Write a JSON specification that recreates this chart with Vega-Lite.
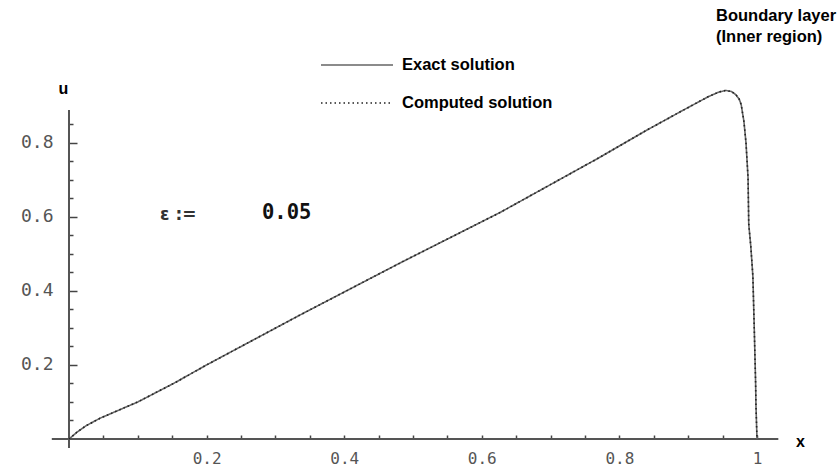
{
  "$schema": "https://vega.github.io/schema/vega-lite/v6.json",
  "width": 839,
  "height": 468,
  "autosize": {"type": "none"},
  "padding": 0,
  "background": "white",
  "config": {
    "view": {"stroke": null},
    "axis": {"labelOverlap": false, "labelFlush": false, "labelBound": false}
  },
  "datasets": {
    "axes": [
      {"x": -0.025, "x2": 1.031, "y": 0, "y2": 0},
      {"x": 0, "x2": 0, "y": -0.024, "y2": 0.888}
    ],
    "solution": [
      {"x": 0, "u": 0, "series": "Exact solution"},
      {"x": 0.012, "u": 0.019, "series": "Exact solution"},
      {"x": 0.025, "u": 0.036, "series": "Exact solution"},
      {"x": 0.045, "u": 0.056, "series": "Exact solution"},
      {"x": 0.1, "u": 0.1, "series": "Exact solution"},
      {"x": 0.153, "u": 0.151, "series": "Exact solution"},
      {"x": 0.2, "u": 0.2, "series": "Exact solution"},
      {"x": 0.336, "u": 0.335, "series": "Exact solution"},
      {"x": 0.482, "u": 0.476, "series": "Exact solution"},
      {"x": 0.627, "u": 0.612, "series": "Exact solution"},
      {"x": 0.773, "u": 0.762, "series": "Exact solution"},
      {"x": 0.838, "u": 0.832, "series": "Exact solution"},
      {"x": 0.889, "u": 0.884, "series": "Exact solution"},
      {"x": 0.929, "u": 0.924, "series": "Exact solution"},
      {"x": 0.945, "u": 0.937, "series": "Exact solution"},
      {"x": 0.955, "u": 0.941, "series": "Exact solution"},
      {"x": 0.963, "u": 0.938, "series": "Exact solution"},
      {"x": 0.969, "u": 0.93, "series": "Exact solution"},
      {"x": 0.974, "u": 0.918, "series": "Exact solution"},
      {"x": 0.977, "u": 0.903, "series": "Exact solution"},
      {"x": 0.981, "u": 0.857, "series": "Exact solution"},
      {"x": 0.984, "u": 0.8, "series": "Exact solution"},
      {"x": 0.987, "u": 0.705, "series": "Exact solution"},
      {"x": 0.988, "u": 0.58, "series": "Exact solution"},
      {"x": 0.991, "u": 0.52, "series": "Exact solution"},
      {"x": 0.994, "u": 0.44, "series": "Exact solution"},
      {"x": 0.996, "u": 0.3, "series": "Exact solution"},
      {"x": 0.998, "u": 0.15, "series": "Exact solution"},
      {"x": 0.9985, "u": 0.09, "series": "Exact solution"},
      {"x": 1.0, "u": 0, "series": "Exact solution"},
      {"x": 0, "u": 0, "series": "Computed solution"},
      {"x": 0.012, "u": 0.019, "series": "Computed solution"},
      {"x": 0.025, "u": 0.036, "series": "Computed solution"},
      {"x": 0.045, "u": 0.056, "series": "Computed solution"},
      {"x": 0.1, "u": 0.1, "series": "Computed solution"},
      {"x": 0.153, "u": 0.151, "series": "Computed solution"},
      {"x": 0.2, "u": 0.2, "series": "Computed solution"},
      {"x": 0.336, "u": 0.335, "series": "Computed solution"},
      {"x": 0.482, "u": 0.476, "series": "Computed solution"},
      {"x": 0.627, "u": 0.612, "series": "Computed solution"},
      {"x": 0.773, "u": 0.762, "series": "Computed solution"},
      {"x": 0.838, "u": 0.832, "series": "Computed solution"},
      {"x": 0.889, "u": 0.884, "series": "Computed solution"},
      {"x": 0.929, "u": 0.924, "series": "Computed solution"},
      {"x": 0.945, "u": 0.937, "series": "Computed solution"},
      {"x": 0.955, "u": 0.941, "series": "Computed solution"},
      {"x": 0.963, "u": 0.938, "series": "Computed solution"},
      {"x": 0.969, "u": 0.93, "series": "Computed solution"},
      {"x": 0.974, "u": 0.918, "series": "Computed solution"},
      {"x": 0.977, "u": 0.903, "series": "Computed solution"},
      {"x": 0.981, "u": 0.857, "series": "Computed solution"},
      {"x": 0.984, "u": 0.8, "series": "Computed solution"},
      {"x": 0.987, "u": 0.705, "series": "Computed solution"},
      {"x": 0.988, "u": 0.58, "series": "Computed solution"},
      {"x": 0.991, "u": 0.52, "series": "Computed solution"},
      {"x": 0.994, "u": 0.44, "series": "Computed solution"},
      {"x": 0.996, "u": 0.3, "series": "Computed solution"},
      {"x": 0.998, "u": 0.15, "series": "Computed solution"},
      {"x": 0.9985, "u": 0.09, "series": "Computed solution"},
      {"x": 1.0, "u": 0, "series": "Computed solution"}
    ],
    "eps": [{"x": 0.1323, "y": 0.6048, "text": "ε :="}],
    "epsval": [{"x": 0.2805, "y": 0.61, "text": "0.05"}],
    "boundary": [
      {"x": 0.9404, "y": 1.142, "text": "Boundary layer"},
      {"x": 0.9404, "y": 1.0853, "text": "(Inner region)"}
    ]
  },
  "resolve": {"axis": {"y": "independent"}},
  "layer": [
    {
      "data": {"name": "axes"},
      "mark": {"type": "rule", "color": "#555", "strokeWidth": 2},
      "encoding": {
        "x": {
          "field": "x", "type": "quantitative",
          "scale": {"domain": [-0.10029, 1.11919], "nice": false, "zero": false},
          "axis": {
            "orient": "bottom", "offset": -29, "domain": false, "grid": false,
            "values": [0.05, 0.1, 0.15, 0.2, 0.25, 0.3, 0.35, 0.4, 0.45, 0.5, 0.55, 0.6, 0.65, 0.7, 0.75, 0.8, 0.85, 0.9, 0.95, 1.0],
            "tickSize": -4, "tickColor": "#444", "tickWidth": 1.5,
            "labelExpr": "abs(datum.value*5-round(datum.value*5))<0.001 ? (datum.value==1 ? '1' : format(datum.value, '.1f')) : ''",
            "labelFont": "DejaVu Sans Mono", "labelFontSize": 16, "labelColor": "#555",
            "labelPadding": 23, "labelBaseline": "middle",
            "title": "x", "titleX": 800, "titleY": 2, "titleAlign": "center", "titleBaseline": "middle",
            "titleFont": "Liberation Sans", "titleFontSize": 16, "titleFontWeight": "bold", "titleColor": "#000"
          }
        },
        "x2": {"field": "x2"},
        "y": {
          "field": "y", "type": "quantitative",
          "scale": {"domain": [-0.07829, 1.18521], "nice": false, "zero": false},
          "axis": {
            "orient": "left", "offset": -69, "domain": false, "grid": false,
            "values": [0.05, 0.1, 0.15, 0.25, 0.3, 0.35, 0.45, 0.5, 0.55, 0.65, 0.7, 0.75, 0.85],
            "tickSize": -4, "tickColor": "#444", "tickWidth": 1.5, "labels": false,
            "title": "u", "titleAngle": 0, "titleX": -6, "titleY": 88, "titleAlign": "center", "titleBaseline": "middle",
            "titleFont": "Liberation Sans", "titleFontSize": 16, "titleFontWeight": "bold", "titleColor": "#000"
          }
        },
        "y2": {"field": "y2"}
      }
    },
    {
      "data": {"name": "solution"},
      "mark": {"type": "line", "strokeWidth": 1.6},
      "encoding": {
        "x": {"field": "x", "type": "quantitative"},
        "y": {
          "field": "u", "type": "quantitative",
          "axis": {
            "orient": "left", "offset": -69, "domain": false, "grid": false,
            "values": [0.2, 0.4, 0.6, 0.8],
            "tickSize": -8, "tickColor": "#444", "tickWidth": 1.5,
            "labelFont": "DejaVu Sans Mono", "labelFontSize": 18, "labelColor": "#555",
            "labelPadding": 24, "format": ".1f", "title": null
          }
        },
        "color": {
          "field": "series", "type": "nominal",
          "scale": {"domain": ["Exact solution", "Computed solution"], "range": ["#666", "#222"]},
          "legend": {
            "orient": "none", "legendX": 320, "legendY": 55, "title": null, "padding": 0,
            "symbolType": "stroke", "symbolSize": 5184, "symbolStrokeWidth": 1.3, "clipHeight": 20,
            "labelFont": "Liberation Sans", "labelFontSize": 16.5, "labelFontWeight": "bold", "labelColor": "#000",
            "labelOffset": 8, "rowPadding": 18
          }
        },
        "strokeDash": {
          "field": "series", "type": "nominal",
          "scale": {"domain": ["Exact solution", "Computed solution"], "range": [[1, 0], [1.5, 3]]},
          "legend": {
            "orient": "none", "legendX": 320, "legendY": 55, "title": null, "padding": 0,
            "symbolType": "stroke", "symbolSize": 5184, "symbolStrokeWidth": 1.3, "clipHeight": 20,
            "labelFont": "Liberation Sans", "labelFontSize": 16.5, "labelFontWeight": "bold", "labelColor": "#000",
            "labelOffset": 8, "rowPadding": 18
          }
        }
      }
    },
    {
      "data": {"name": "eps"},
      "mark": {"type": "text", "align": "left", "baseline": "middle", "font": "DejaVu Sans", "fontSize": 17, "fontWeight": "bold", "color": "#333"},
      "encoding": {
        "x": {"field": "x", "type": "quantitative"},
        "y": {"field": "y", "type": "quantitative", "axis": null},
        "text": {"field": "text"}
      }
    },
    {
      "data": {"name": "epsval"},
      "mark": {"type": "text", "align": "left", "baseline": "middle", "font": "DejaVu Sans Mono", "fontSize": 20.5, "fontWeight": "bold", "color": "#111"},
      "encoding": {
        "x": {"field": "x", "type": "quantitative"},
        "y": {"field": "y", "type": "quantitative", "axis": null},
        "text": {"field": "text"}
      }
    },
    {
      "data": {"name": "boundary"},
      "mark": {"type": "text", "align": "left", "baseline": "middle", "font": "Liberation Sans", "fontSize": 16.5, "fontWeight": "bold", "color": "#000"},
      "encoding": {
        "x": {"field": "x", "type": "quantitative"},
        "y": {"field": "y", "type": "quantitative", "axis": null},
        "text": {"field": "text"}
      }
    }
  ]
}
